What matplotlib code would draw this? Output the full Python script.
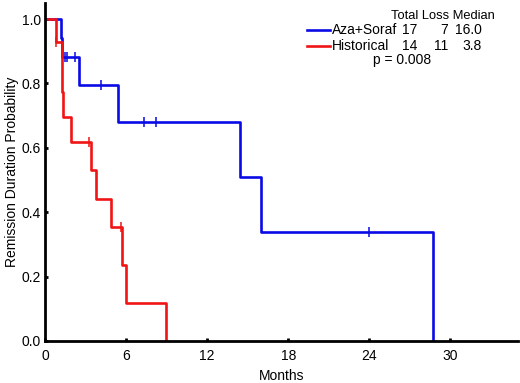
import matplotlib
matplotlib.use("Agg")
import matplotlib.pyplot as plt
from matplotlib.lines import Line2D

plt.rcParams['font.family'] = ['Liberation Sans', 'DejaVu Sans']

# Kaplan-Meier step data (months, survival probability)
aza_times = [0, 1.19, 1.27, 2.54, 5.43, 14.4, 16.0, 28.7]
aza_surv = [1.0, 0.941, 0.882, 0.794, 0.680, 0.510, 0.340, 0.0]
aza_cens_t = [1.48, 1.62, 2.25, 4.15, 7.33, 8.2, 24.0]
aza_cens_s = [0.882, 0.882, 0.882, 0.794, 0.680, 0.680, 0.340]

hist_times = [0, 0.80, 1.23, 1.35, 1.90, 3.38, 3.78, 4.89, 5.68, 5.98, 8.94]
hist_surv = [1.0, 0.929, 0.774, 0.696, 0.619, 0.531, 0.442, 0.354, 0.236, 0.118, 0.0]
hist_cens_t = [0.85, 3.28, 5.6]
hist_cens_s = [0.929, 0.619, 0.354]

x_ticks = [0, 6, 12, 18, 24, 30]
y_ticks = [0.0, 0.2, 0.4, 0.6, 0.8, 1.0]

legend_names = ["Aza+Soraf", "Historical"]
legend_total = ["17", "14"]
legend_loss = ["7", "11"]
legend_median = ["16.0", "3.8"]
p_text = "p = 0.008"

blue = '#0a0ae6'
red = '#f01414'

W, H = 520, 383
fig = plt.figure(figsize=(W / 100, H / 100), dpi=100)
ax = fig.add_axes([45 / W, 1 - 341 / H, (518 - 45) / W, (341 - 3) / H])

ax.step(aza_times, aza_surv, where='post', color=blue, lw=1.9)
ax.step(hist_times, hist_surv, where='post', color=red, lw=1.9)
ax.plot(aza_cens_t, aza_cens_s, ls='none', marker='|', ms=7, mew=1.1, color=blue)
ax.plot(hist_cens_t, hist_cens_s, ls='none', marker='|', ms=7, mew=1.1, color=red)

ax.set_xlim(0, 35)
ax.set_ylim(0, 1.05)
ax.set_xticks(x_ticks)
ax.set_xticklabels([str(v) for v in x_ticks])
ax.set_yticks(y_ticks)
ax.set_yticklabels([f"{v:.1f}" for v in y_ticks])
for s in ['top', 'right']:
    ax.spines[s].set_visible(False)
for s in ['left', 'bottom']:
    ax.spines[s].set_linewidth(2.0)
    ax.spines[s].set_color('black')
fs = 10
ax.tick_params(direction='in', length=2, width=2, labelsize=fs, colors='black')
ax.tick_params(axis='x', pad=6)
ax.tick_params(axis='y', pad=3)
ax.set_xlabel("Months", fontsize=fs, labelpad=4)
ax.set_ylabel("Remission Duration Probability", fontsize=fs, labelpad=2)

def fx(px):
    return px / W

def fy(py):
    return 1 - py / H

fig.text(fx(391), fy(16), "Total Loss Median", fontsize=9.3, va='center', ha='left')
rows_y = [29.5, 45.5]
colors = [blue, red]
for i in range(2):
    y = rows_y[i]
    fig.add_artist(Line2D([fx(307), fx(330)], [fy(y), fy(y)], color=colors[i], lw=1.9))
    fig.text(fx(332), fy(y), legend_names[i], fontsize=fs, va='center', ha='left')
    fig.text(fx(402), fy(y), legend_total[i], fontsize=fs, va='center', ha='left')
    fig.text(fx(448), fy(y), legend_loss[i], fontsize=fs, va='center', ha='right')
    fig.text(fx(482), fy(y), legend_median[i], fontsize=fs, va='center', ha='right')
fig.text(fx(402.5), fy(60), p_text, fontsize=fs, va='center', ha='center')

fig.savefig("out.png", dpi=100)
